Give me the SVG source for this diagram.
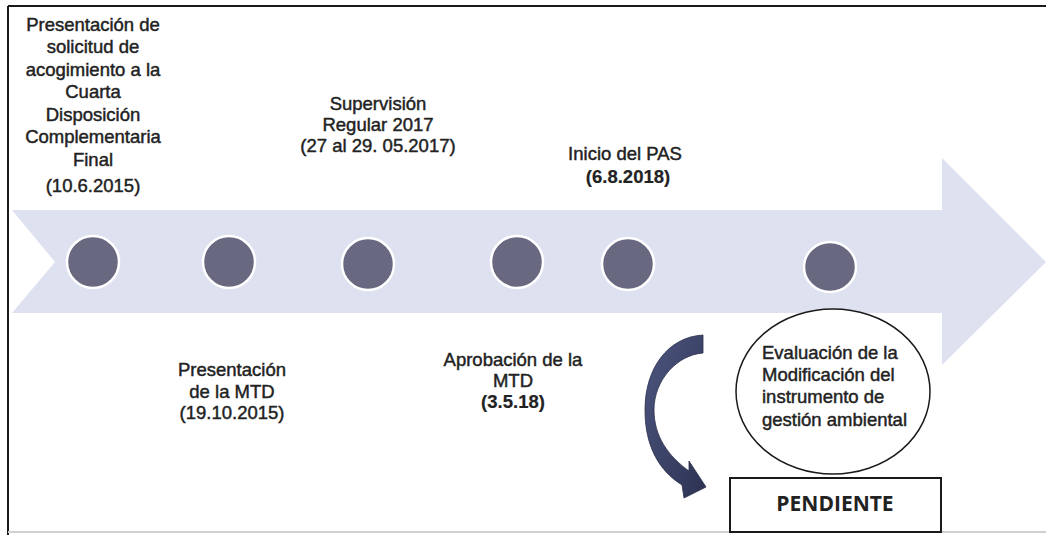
<svg xmlns="http://www.w3.org/2000/svg" width="1046" height="535" viewBox="0 0 1046 535">
  <defs>
    <linearGradient id="curveGrad" x1="0" y1="0" x2="1" y2="1">
      <stop offset="0" stop-color="#4d5680"/>
      <stop offset="1" stop-color="#2c3252"/>
    </linearGradient>
  </defs>
  <style>
    .t { font-family: "Liberation Sans", Arial, sans-serif; font-size: 18.5px; fill: #222; stroke: #222; stroke-width: 0.45; text-anchor: middle; }
    .tl { font-family: "Liberation Sans", Arial, sans-serif; font-size: 18.5px; fill: #222; stroke: #222; stroke-width: 0.45; }
    .b { font-weight: bold; stroke-width: 0.2; }
    .dot { fill: #686880; stroke: #ffffff; stroke-width: 2.5; }
    .frame { stroke: #1a1a1a; stroke-width: 2; fill: none; }
  </style>
  <rect x="0" y="0" width="1046" height="535" fill="#ffffff"/>

  <!-- frame -->
  <g id="frame">
    <line class="frame" x1="8" y1="6" x2="1046" y2="6"/>
    <line class="frame" x1="8" y1="6" x2="8" y2="535"/>
    <line x1="8" y1="532" x2="1046" y2="532" stroke="#d0d0d0" stroke-width="2"/>
  </g>

  <!-- timeline arrow -->
  <g id="timeline">
    <polygon points="12,210 942,210 942,158 1046,262 942,365 942,313 12,313 55,262" fill="#dee1ef"/>
  </g>

  <g id="dots">
    <ellipse id="dot1" class="dot" cx="93" cy="262" rx="26" ry="26"/>
    <ellipse id="dot2" class="dot" cx="229" cy="262" rx="26" ry="26"/>
    <ellipse id="dot3" class="dot" cx="368" cy="264" rx="26" ry="26"/>
    <ellipse id="dot4" class="dot" cx="517" cy="262" rx="26" ry="26"/>
    <ellipse id="dot5" class="dot" cx="628" cy="264" rx="26" ry="26"/>
    <ellipse id="dot6" class="dot" cx="830" cy="267" rx="26" ry="25"/>
  </g>

  <g id="label1">
    <text class="t" x="93" y="31">Presentación de</text>
    <text class="t" x="93" y="53">solicitud de</text>
    <text class="t" x="93" y="76">acogimiento a la</text>
    <text class="t" x="93" y="98">Cuarta</text>
    <text class="t" x="93" y="121">Disposición</text>
    <text class="t" x="93" y="143">Complementaria</text>
    <text class="t" x="93" y="166">Final</text>
    <text class="t" x="93" y="192">(10.6.2015)</text>
  </g>

  <g id="label2">
    <text class="t" x="232" y="376">Presentación</text>
    <text class="t" x="232" y="398">de la MTD</text>
    <text class="t" x="232" y="419">(19.10.2015)</text>
  </g>

  <g id="label3">
    <text class="t" x="378" y="110">Supervisión</text>
    <text class="t" x="378" y="131">Regular 2017</text>
    <text class="t" x="378" y="152">(27 al 29. 05.2017)</text>
  </g>

  <g id="label4">
    <text class="t" x="513" y="366">Aprobación de la</text>
    <text class="t" x="513" y="387">MTD</text>
    <text class="t b" x="513" y="408">(3.5.18)</text>
  </g>

  <g id="label5">
    <text class="t" x="625" y="160">Inicio del PAS</text>
    <text class="t b" x="628" y="183">(6.8.2018)</text>
  </g>

  <g id="evaluacion">
    <ellipse cx="833" cy="391.5" rx="97" ry="82.5" fill="#ffffff" stroke="#1a1a1a" stroke-width="1.5"/>
    <text class="tl" x="762" y="359">Evaluación de la</text>
    <text class="tl" x="762" y="381">Modificación del</text>
    <text class="tl" x="762" y="403">instrumento de</text>
    <text class="tl" x="762" y="426">gestión ambiental</text>
  </g>

  <g id="pendiente">
    <rect x="730" y="478" width="211" height="54" fill="#ffffff" stroke="#1a1a1a" stroke-width="2"/>
    <text x="835" y="511" font-family="'Open Sans', 'Liberation Sans', sans-serif" font-size="21" font-weight="bold" fill="#222" text-anchor="middle">PENDIENTE</text>
  </g>

  <g id="connectors">
    <path d="M703,335 L703,353 C677,355 654,380 654,410 C654,436 668,456 689,471 L689,461 L706,487 L684,498 L682,485 C658,470 645,445 645,410 C645,368 668,337 703,335 Z" fill="url(#curveGrad)" stroke="#2a2f4a" stroke-width="0.8"/>
  </g>
</svg>
